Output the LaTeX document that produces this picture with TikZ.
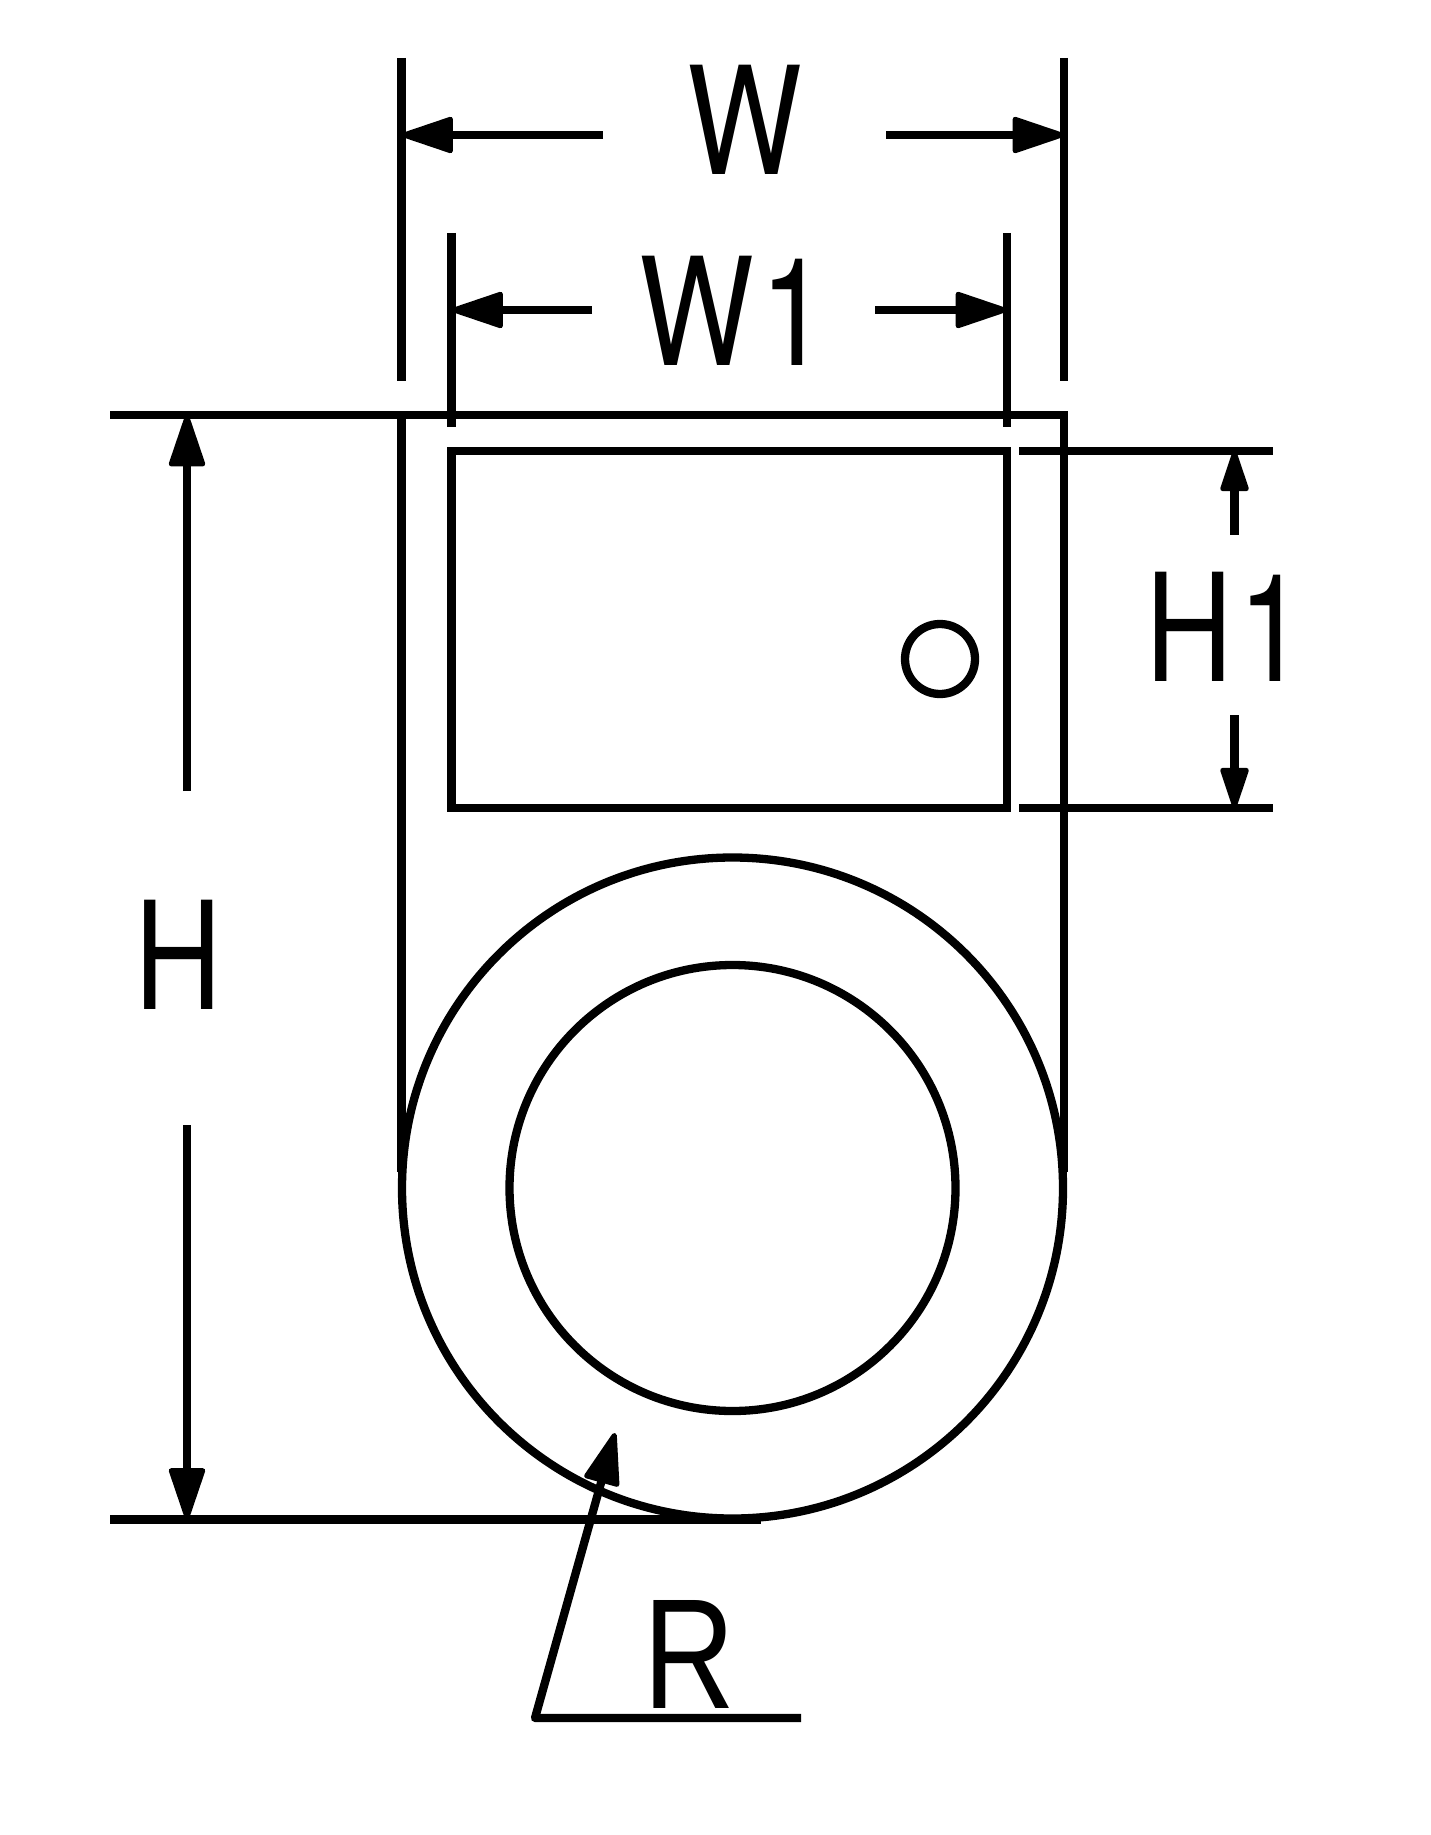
\documentclass[tikz,border=0pt]{standalone}
\usepackage{fontspec}
\newfontfamily\dimfont[FakeStretch=0.81]{TeX Gyre Heros}
\newfontfamily\legfont[FakeStretch=0.81]{Liberation Sans}
\usetikzlibrary{arrows.meta}
\tikzset{
  bigtip/.tip={Triangle[length=57pt,width=37pt,line width=5pt,round]},
  smalltip/.tip={Triangle[length=46pt,width=29pt,line width=5pt,round]},
  part/.style={line width=8.3pt},
  dimlabel/.style={inner sep=0pt,anchor=base,font=\dimfont\fontsize{150}{150}\selectfont}
}
\begin{document}
\begin{tikzpicture}[x=1pt,y=-1pt]
\useasboundingbox (0,0) rectangle (1431,1835);

% outline
\coordinate (lefttop) at (401.5,415);
\coordinate (righttop) at (1064,415);
\coordinate (leftend) at (401.5,1172);
\coordinate (rightend) at (1064,1172);
\draw[part,line join=miter] (leftend) -- (lefttop) -- (righttop) -- (rightend);
\draw[part] (732.5,1188) circle (330.5);
\draw[part] (732.5,1188) circle (223);
\draw[part] (451.5,451) rectangle (1007,808);
\draw[part] (940,659) circle (35);

% extension lines
\coordinate (wtopl) at (401.5,58);
\coordinate (wbotl) at (401.5,381);
\coordinate (wtopr) at (1064,58);
\coordinate (wbotr) at (1064,381);
\coordinate (vtopl) at (451.5,233);
\coordinate (vbotl) at (451.5,427);
\coordinate (vtopr) at (1007,233);
\coordinate (vbotr) at (1007,427);
\coordinate (houtt) at (110,415);
\coordinate (houtb) at (110,1519.5);
\coordinate (hendb) at (761,1519.5);
\coordinate (goutt) at (1019,451);
\coordinate (gendt) at (1273,451);
\coordinate (goutb) at (1019,808);
\coordinate (gendb) at (1273,808);
\draw[part] (wtopl) -- (wbotl);
\draw[part] (wtopr) -- (wbotr);
\draw[part] (vtopl) -- (vbotl);
\draw[part] (vtopr) -- (vbotr);
\draw[part] (houtt) -- (lefttop);
\draw[part] (houtb) -- (hendb);
\draw[part] (goutt) -- (gendt);
\draw[part] (goutb) -- (gendb);

% labels
\node[dimlabel] (labw) at (744.5,175) {W};
\node[dimlabel] (labwa) at (734,365) {W\kern6pt 1};
\node[dimlabel] (labh) at (178,1009) {H};
\node[dimlabel] (labha) at (1225.8,681) {H\kern6pt 1};
\node[dimlabel,font=\legfont\fontsize{157}{157}\selectfont] (labr) at (689,1708) {R};

% dimension arrows
\coordinate (wl) at (603,135);
\coordinate (wr) at (886,135);
\coordinate (wa) at (401.5,135);
\coordinate (wb) at (1064,135);
\coordinate (vl) at (592,310);
\coordinate (vr) at (875,310);
\coordinate (va) at (451.5,310);
\coordinate (vb) at (1007,310);
\coordinate (hu) at (187,791);
\coordinate (hd) at (187,1125);
\coordinate (ha) at (187,415);
\coordinate (hb) at (187,1519.5);
\coordinate (gu) at (1234.5,534.5);
\coordinate (gd) at (1234.5,715);
\coordinate (ga) at (1234.5,451);
\coordinate (gb) at (1234.5,808);
\draw[part,-bigtip] (wl) -- (wa);
\draw[part,-bigtip] (wr) -- (wb);
\draw[part,-bigtip] (vl) -- (va);
\draw[part,-bigtip] (vr) -- (vb);
\draw[part,-bigtip] (hu) -- (ha);
\draw[part,-bigtip] (hd) -- (hb);
\draw[part,-smalltip] (gu) -- (ga);
\draw[part,-smalltip] (gd) -- (gb);

% leader
\coordinate (rtip) at (615,1433);
\coordinate (rknee) at (535,1718);
\coordinate (rend) at (801,1718);
\draw[part,line join=round,bigtip-] (rtip) -- (rknee) -- (rend);
\end{tikzpicture}
\end{document}
